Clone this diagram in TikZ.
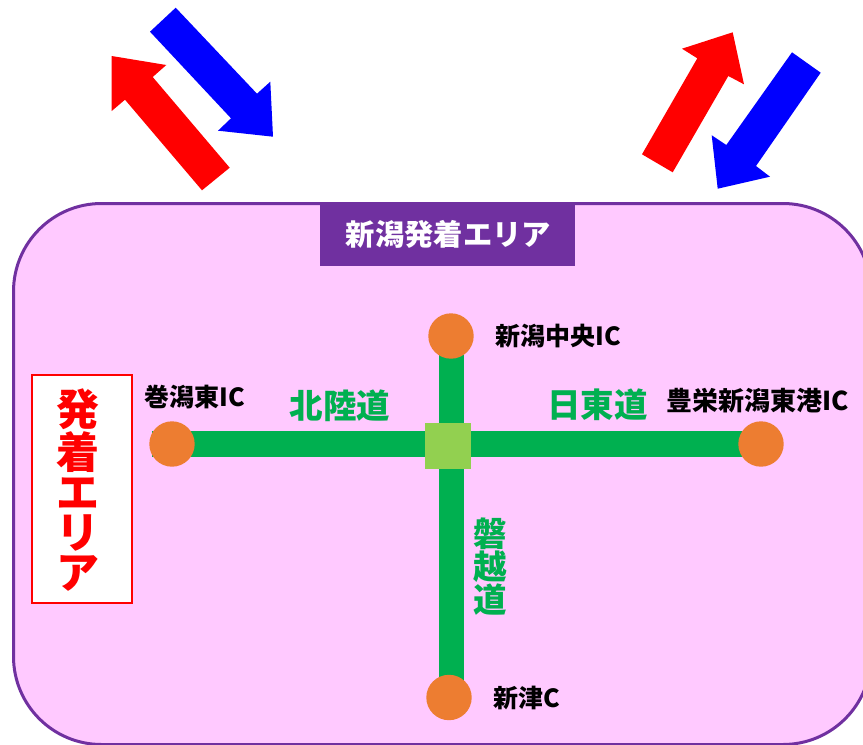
\documentclass[tikz,border=0pt]{standalone}
\usepackage{fontspec}
\usetikzlibrary{backgrounds}
\setmainfont{Noto Sans CJK JP}[BoldFont={Noto Sans CJK JP Black}]
\definecolor{panelfill}{HTML}{FFC9FF}
\definecolor{panelline}{HTML}{7030A0}
\definecolor{road}{HTML}{00B050}
\definecolor{junction}{HTML}{92D050}
\definecolor{icdot}{HTML}{ED7D31}
\tikzset{
  icnode/.style={circle,fill=icdot,minimum size=45.4pt,inner sep=0pt,outer sep=0pt},
  roadline/.style={road,line width=25.6pt},
  iclabel/.style={inner sep=0pt,font=\bfseries\fontsize{25}{27}\selectfont,text=black},
  roadlabel/.style={inner sep=0pt,font=\bfseries\fontsize{33.5}{33}\selectfont,text=road,align=center},
  redarrow/.style={fill=red},
  bluearrow/.style={fill=blue}
}
\begin{document}
\begin{tikzpicture}[x=1pt,y=-1pt]
\useasboundingbox (0,0) rectangle (863,745);
% arrows
\fill[bluearrow] (175.7,7.7) -- (150,31.7) -- (231,118.3) -- (218,130.7) -- (273,136.7) -- (270.3,81.7) -- (257,93.7) -- cycle;
\fill[redarrow] (111.7,56) -- (166.3,65) -- (152.7,77) -- (229.7,167.7) -- (202,190.3) -- (125,99.7) -- (111.7,111) -- cycle;
\fill[redarrow] (732.7,32.3) -- (744,84.3) -- (728.3,76) -- (672.7,172.3) -- (642,154.3) -- (697.3,58.3) -- (682,48.7) -- cycle;
\fill[bluearrow] (792,52.3) -- (820.7,72.7) -- (756,166) -- (770,176.7) -- (717.7,188.7) -- (711.7,135.3) -- (726.3,145) -- cycle;
% title
\node[fill=panelline,minimum width=255pt,minimum height=63pt,inner sep=0pt,outer sep=0pt] (title) at (447.5,234.5) {};
\node[text=white,inner sep=0pt,font=\bfseries\fontsize{29.3}{32}\selectfont] (titletext) at (448.5,234.5) {新潟発着エリア};
% area box
\node[draw=red,line width=2pt,fill=white,minimum width=100pt,minimum height=228pt,inner sep=0pt] (area) at (82,488.7) {};
\node[inner sep=0pt,text=red,align=center,font=\bfseries\fontsize{43}{40}\selectfont] (areatext) at (78,490) {発\\着\\エ\\リ\\ア};
% interchanges
\node[icnode] (maki) at (172,444) {};
\node[icnode] (toyo) at (761,444) {};
\node[icnode] (chuo) at (451,336) {};
\node[icnode] (tsu) at (449,697.5) {};
\node[fill=junction,minimum size=46pt,inner sep=0pt,outer sep=0pt] (junc) at (448,446) {};
\coordinate (makiroad) at (152,444);
\coordinate (vtop) at (451.3,336);
\coordinate (vbot) at (451.3,697.5);
% panel and roads lie under the nodes
\begin{scope}[on background layer]
\draw[panelline,line width=3pt,fill=panelfill,rounded corners=88pt] (13.5,203.5) rectangle (871,744.5);
\draw[roadline] (makiroad) -- (junc.center |- makiroad);
\draw[roadline] (junc.center |- toyo.center) -- (toyo.center);
\draw[roadline] (vtop) -- (vbot);
\end{scope}
% labels
\node[iclabel] (l1) at (195,397) {巻潟東IC};
\node[iclabel] (l2) at (558,336) {新潟中央IC};
\node[iclabel,font=\bfseries\fontsize{26}{27}\selectfont] (l3) at (758,401) {豊栄新潟東港IC};
\node[iclabel] (l4) at (527,697.5) {新津C};
\node[roadlabel] (r1) at (340,405.5) {北陸道};
\node[roadlabel] (r2) at (597.5,404.5) {日東道};
\node[roadlabel] (r3) at (490.5,567) {磐\\越\\道};
\end{tikzpicture}
\end{document}
